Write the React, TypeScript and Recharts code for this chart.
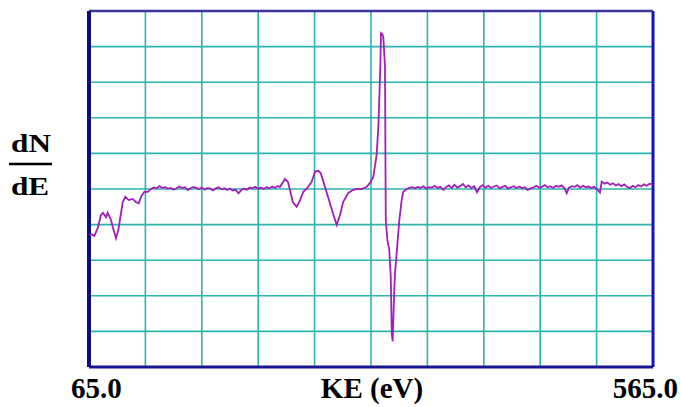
import React from "react";
import { LineChart, Line, XAxis, YAxis, CartesianGrid, ReferenceLine } from "recharts";

// Kinetic energy (eV) sample positions
const energyEv: number[] = [
  65, 67, 69.7, 72.7, 75.6, 77.4, 80.1, 81.6, 84.5, 86.0, 88.9, 91.0, 93.4, 94.9, 97.2, 100.2, 103.7, 106.7, 109.1, 111.1, 114.0, 117.0, 120.0,
  122.5, 125, 127.5, 130, 132.5, 135, 137.5, 140, 142.5, 145, 147.5, 150, 152.5, 155, 157.5, 160, 162.5, 165, 167.5, 170, 172.5, 175, 177.5, 180,
  182.5, 185, 187.5, 190, 192.5, 195, 197.5, 200, 202.5, 205, 207.5, 210, 212.5, 215, 217.5, 220, 222.5, 225, 227.5, 230, 232,
  234.3, 238.8, 241.4, 243.8, 245.6, 249.1, 252.1, 255.0, 258.5, 262.4, 265.4, 268.3, 270.4, 274.2, 278.6, 282.2, 284.6, 287.5, 290.4, 294.9,
  299.0, 302.3, 306.7, 311.2, 314.1, 317.0, 320.0, 321.5, 322.4, 323.3, 323.9, 325.0, 325.9, 327.4, 328.1, 329.5, 331.2, 332.5, 333.4, 334.2,
  335.4, 336.3, 338.7, 340.1, 342.2, 343.6, 346.6,
  349, 351.5, 354, 356.5, 359, 361.5, 364, 366.5, 369, 371.5, 374, 376.5, 379, 381.5, 384, 386.5, 389, 391.5, 394, 396.5, 399, 401.5, 404,
  406.5, 409, 411.5, 414, 416.5, 419, 421.5, 424, 426.5, 429, 431.5, 434, 436.5, 439, 441.5, 444, 446.5, 449, 451.5, 454, 456.5, 459, 461.5,
  464, 466.5, 469, 471.5, 474, 476.5, 479, 481.5, 484, 486.5, 488.5, 490.5, 493, 495.5, 498, 500.5, 503, 505.5, 508, 510.5, 513, 515.5, 518,
  519.5, 522, 524.5, 527, 529.5, 532, 534.5, 537, 539.5, 542, 544.5, 547, 549.5, 552, 554.5, 557, 559.5, 562, 565,
];

// dN/dE signal (grid units)
const dNdE: number[] = [
  -1.29, -1.27, -1.32, -1.10, -0.73, -0.67, -0.79, -0.67, -0.87, -1.06, -1.38, -1.15, -0.67, -0.37, -0.22, -0.31, -0.28, -0.37, -0.40, -0.22, -0.08, -0.08, 0.0,
  0.04, 0.02, 0.08, 0.03, 0.05, 0.01, 0.03, -0.02, 0.02, 0.07, 0.03, 0.05, -0.03, 0.02, 0.06, 0.03, 0.0, 0.04, -0.02, 0.03, 0.01, -0.04, 0.02, 0.05,
  -0.01, 0.02, -0.03, 0.01, -0.04, -0.02, -0.12, -0.03, 0.01, -0.02, 0.04, 0.02, 0.06, 0.01, 0.04, 0.0, 0.05, 0.02, 0.07, 0.03, 0.08,
  0.06, 0.28, 0.20, -0.11, -0.36, -0.50, -0.31, -0.08, 0.03, 0.20, 0.49, 0.51, 0.45, 0.06, -0.40, -0.78, -1.01, -0.73, -0.36, -0.11,
  -0.03, 0.0, 0.0, 0.06, 0.17, 0.34, 0.96, 1.74, 2.59, 3.5, 4.38, 4.35, 4.28, 3.43, -0.87, -1.43, -1.71, -2.46, -4.05, -4.28,
  -3.03, -2.36, -1.43, -0.87, -0.31, -0.08, 0.0,
  0.03, 0.05, 0.02, 0.06, 0.03, 0.08, 0.01, 0.05, 0.04, 0.09, 0.03, 0.06, -0.02, 0.05, 0.10, 0.03, 0.12, 0.04, 0.08, 0.14, 0.05, 0.10, 0.02,
  0.08, -0.09, 0.05, 0.11, 0.04, 0.09, 0.03, 0.07, 0.10, 0.02, 0.06, 0.09, 0.01, 0.05, 0.08, 0.03, 0.07, 0.02, 0.05, -0.03, 0.02, 0.04, 0.09,
  0.04, 0.06, 0.11, 0.05, 0.08, 0.03, 0.09, 0.06, 0.10, 0.02, -0.12, 0.04, 0.08, 0.06, 0.11, 0.04, 0.09, 0.05, 0.07, 0.03, 0.06, -0.02, -0.10,
  0.21, 0.15, 0.18, 0.12, 0.16, 0.10, 0.14, 0.08, 0.13, 0.06, 0.02, 0.09, 0.05, 0.11, 0.07, 0.13, 0.09, 0.15, 0.12,
];

const xTicks: number[] = [65, 115, 165, 215, 265, 315, 365, 415, 465, 515, 565];
const yTicks: number[] = [-5, -4, -3, -2, -1, 0, 1, 2, 3, 4, 5];
const xStartLabel = "65.0";
const xEndLabel = "565.0";
const xTitle = "KE (eV)";

const data = energyEv.map((e, i) => ({ e, v: dNdE[i] }));

const serif = "'Liberation Serif', 'Times New Roman', serif";

export default function App() {
  return (
    <div style={{ position: "absolute", left: 0, top: 0, width: 681, height: 407, background: "#fff" }}>
      <LineChart width={681} height={407} data={data} margin={{ top: 11, right: 28, bottom: 40, left: 89 }}>
        <XAxis dataKey="e" type="number" domain={[65, 565]} ticks={xTicks} hide />
        <YAxis type="number" domain={[-5, 5]} ticks={yTicks} hide />
        <CartesianGrid stroke="#2bb3ad" strokeWidth={1.6} />
        <ReferenceLine x={565} stroke="#1212c4" strokeWidth={3} />
        <ReferenceLine y={5} stroke="#3d3598" strokeWidth={2.5} />
        <ReferenceLine y={-5} stroke="#15158f" strokeWidth={3} />
        <ReferenceLine x={65} stroke="#0c0c86" strokeWidth={4} />
        <Line
          dataKey="v"
          type="linear"
          stroke="#a11fb8"
          strokeWidth={1.8}
          dot={false}
          isAnimationActive={false}
        />
      </LineChart>
      <svg width={681} height={407} style={{ position: "absolute", left: 0, top: 0, pointerEvents: "none" }}>
        <g fontFamily={serif} fontWeight="bold" fill="#000">
          <text x={31} y={152} fontSize={26} textAnchor="middle" transform="translate(31 0) scale(1.2 1) translate(-31 0)">dN</text>
          <line x1={9} x2={52} y1={164} y2={164} stroke="#000" strokeWidth={2.5} />
          <text x={30} y={195} fontSize={26} textAnchor="middle" transform="translate(30 0) scale(1.2 1) translate(-30 0)">dE</text>
          <text x={71} y={398} fontSize={29} textAnchor="start">{xStartLabel}</text>
          <text x={372} y={398} fontSize={29} textAnchor="middle">{xTitle}</text>
          <text x={678} y={398} fontSize={29} textAnchor="end">{xEndLabel}</text>
        </g>
      </svg>
    </div>
  );
}
